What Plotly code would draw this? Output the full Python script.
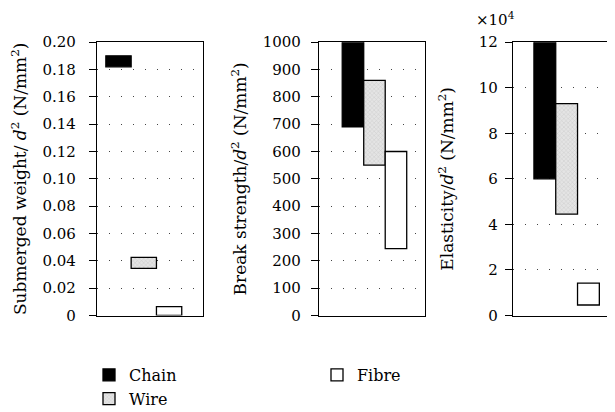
import plotly.graph_objects as go

# ---------------- data ----------------
materials = ["Chain", "Wire", "Fibre"]
x_pos = [1, 2, 3]

weight_low = [0.182, 0.0345, 0.0]
weight_high = [0.190, 0.0425, 0.0065]

strength_low = [690, 550, 245]
strength_high = [1000, 860, 600]

elastic_low = [60000, 44500, 4600]
elastic_high = [120000, 93000, 14200]

weight_ticks = [0, 0.02, 0.04, 0.06, 0.08, 0.10, 0.12, 0.14, 0.16, 0.18, 0.20]
weight_labels = ["0", "0.02", "0.04", "0.06", "0.08", "0.10", "0.12", "0.14", "0.16", "0.18", "0.20"]
strength_ticks = [0, 100, 200, 300, 400, 500, 600, 700, 800, 900, 1000]
strength_labels = [str(v) for v in strength_ticks]
elastic_ticks = [0, 20000, 40000, 60000, 80000, 100000, 120000]
elastic_labels = ["0", "2", "4", "6", "8", "10", "12"]

# ---------------- style ----------------
FONT = "DejaVu Serif"
fills = {"Chain": "#000000", "Wire": "#dedede", "Fibre": "#ffffff"}

fig = go.Figure()

panels = [
    (weight_low, weight_high, "x", "y"),
    (strength_low, strength_high, "x2", "y2"),
    (elastic_low, elastic_high, "x3", "y3"),
]

for p, (lo, hi, xa, ya) in enumerate(panels):
    for i, m in enumerate(materials):
        marker = dict(color=fills[m], line=dict(color="black", width=1.3))
        if m == "Wire":
            marker["pattern"] = dict(shape="x", size=3, solidity=0.25,
                                     fgcolor="#a8a8a8", bgcolor="#e4e4e4",
                                     fillmode="overlay")
        fig.add_trace(go.Bar(
            x=[x_pos[i]], y=[hi[i] - lo[i]], base=[lo[i]], width=1,
            name=m, marker=marker, xaxis=xa, yaxis=ya,
            showlegend=(p == 0),
            legend="legend2" if m == "Fibre" else "legend",
        ))

W, H = 615, 412
ydom = [(H - 307.5) / H, (H - 34.2) / H]

def xax(dom, rng, anchor):
    return dict(domain=dom, range=rng, anchor=anchor, showline=True, linecolor="black",
                linewidth=1.3, mirror=True, showticklabels=False, ticks="", showgrid=False,
                zeroline=False, fixedrange=True, automargin=False)

def yax(rng, tv, tt, title, anchor, lab_standoff, title_standoff, mirror=True):
    return dict(domain=ydom, range=rng, anchor=anchor, showline=True, linecolor="black",
                linewidth=1.3, mirror=mirror, ticks="outside", ticklen=7, tickwidth=1.3,
                tickcolor="black", tickvals=tv, ticktext=tt, showgrid=True,
                gridcolor="#444444", griddash="1px,11px", gridwidth=1, zeroline=False,
                tickfont=dict(family=FONT, size=15, color="black"),
                title=dict(text=title, font=dict(family=FONT, size=17, color="black"),
                           standoff=title_standoff),
                ticklabelstandoff=lab_standoff, automargin=False)

fig.update_layout(
    width=W, height=H,
    margin=dict(l=0, r=0, t=0, b=0),
    paper_bgcolor="white", plot_bgcolor="white",
    barmode="overlay",
    font=dict(family=FONT, size=15, color="black"),
    xaxis=xax([89 / W, 195 / W], [0.15, 4.34], "y"),
    xaxis2=xax([311 / W, 417 / W], [-0.58, 4.35], "y2"),
    xaxis3=xax([505 / W, 1.0], [-0.46, 4.586], "y3"),
    yaxis=yax([0, 0.2], weight_ticks, weight_labels,
              "Submerged weight/ <i>d</i><sup>2</sup> (N/mm<sup>2</sup>)", "x", 10, 13),
    yaxis2=yax([0, 1000], strength_ticks, strength_labels,
               "Break strength/<i>d</i><sup>2</sup> (N/mm<sup>2</sup>)", "x2", 7, 11),
    yaxis3=yax([0, 120000], elastic_ticks, elastic_labels,
               "Elasticity/<i>d</i><sup>2</sup> (N/mm<sup>2</sup>)", "x3", 4, 20,
               mirror=False),
    legend=dict(x=81 / W, y=(H - 350) / H, xanchor="left", yanchor="top",
                orientation="v", bgcolor="rgba(0,0,0,0)",
                font=dict(family=FONT, size=16, color="black"), tracegroupgap=0),
    legend2=dict(x=309 / W, y=(H - 350) / H, xanchor="left", yanchor="top",
                 orientation="v", bgcolor="rgba(0,0,0,0)",
                 font=dict(family=FONT, size=16, color="black")),
    annotations=[dict(text="×10<sup>4</sup>", xref="paper", yref="paper",
                      x=466 / W, y=(H - 23) / H, xanchor="left", yanchor="bottom",
                      showarrow=False, font=dict(family=FONT, size=15, color="black"))],
)

fig.write_html("out.html")
